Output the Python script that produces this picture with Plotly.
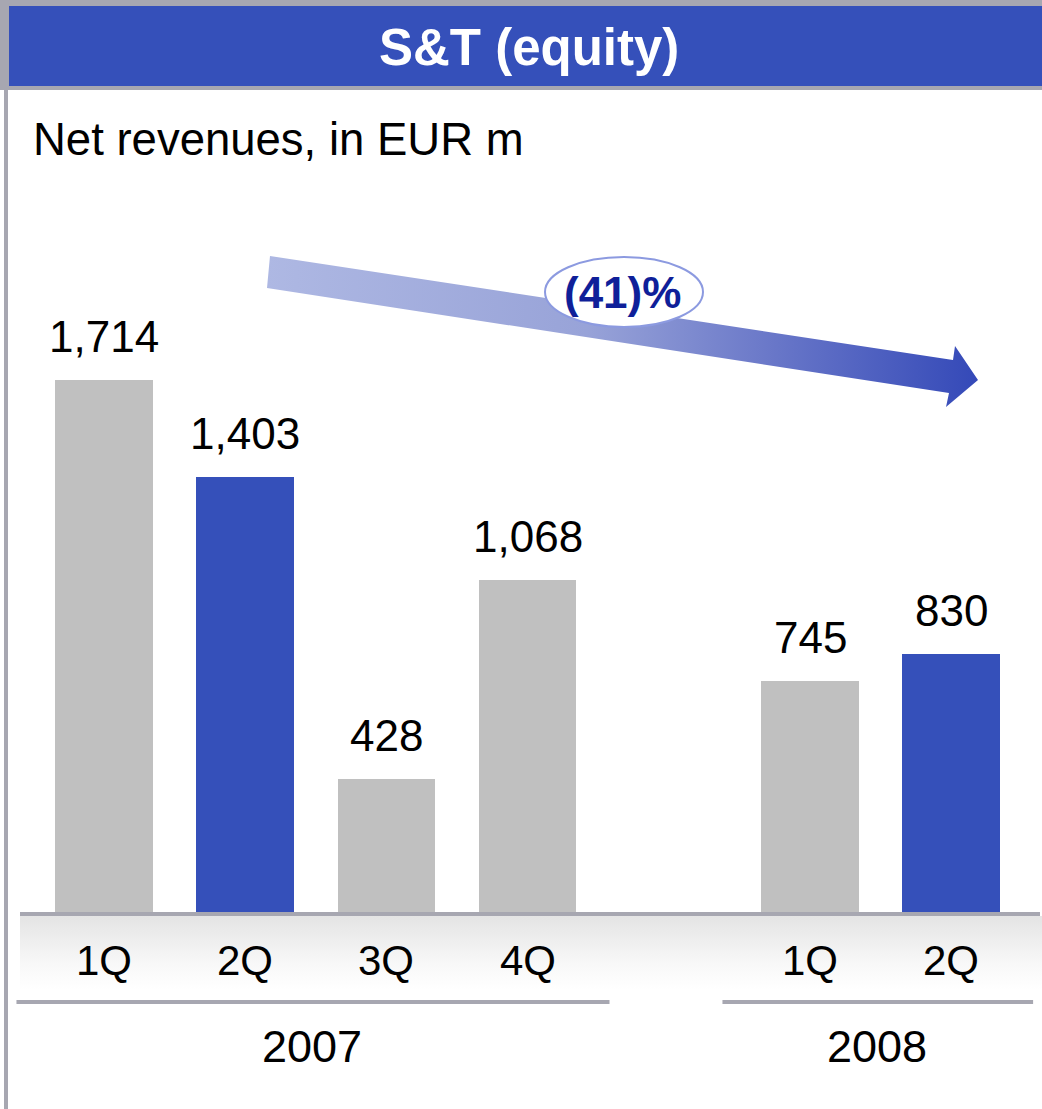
import plotly.graph_objects as go

# ---------------------------
# Data
# ---------------------------
quarters = ["1Q", "2Q", "3Q", "4Q", "1Q", "2Q"]
years = ["2007", "2007", "2007", "2007", "2008", "2008"]
revenues = [1714, 1403, 428, 1068, 745, 830]
title = "S&T (equity)"
subtitle = "Net revenues, in EUR m"
change_label = "(41)%"

# ---------------------------
# Page geometry (pixels)
# ---------------------------
W, H = 1042, 1109
SLOT = 141.2          # px per category slot
X0_PX = 104           # px centre of first bar
BASE_PX = 912         # px of value 0
Y_SCALE = 0.3104      # px per EUR m

BLUE = "#3550BA"
GREY = "#C0C0C0"
FRAME = "#A7A7B1"
FONT = "Liberation Sans, Arial, sans-serif"


def dx(px):
    return (px - X0_PX) / SLOT


def dy(py):
    return (BASE_PX - py) / Y_SCALE


def pfx(px):
    return px / W


def pfy(py):
    return 1 - py / H


# slot positions: leave one empty slot when the year changes
pos = []
p = 0
for i, yr in enumerate(years):
    if i > 0 and yr != years[i - 1]:
        p += 1
    pos.append(p)
    p += 1

colors = [BLUE if q == "2Q" else GREY for q in quarters]

fig = go.Figure()

# grey gradient band under the baseline
band_x = [dx(20), dx(W), dx(W), dx(20)]
band_y = [dy(916), dy(916), dy(990), dy(990)]
fig.add_trace(go.Scatter(
    x=band_x, y=band_y, fill="toself", mode="lines", line=dict(width=0),
    fillgradient=dict(type="vertical",
                      colorscale=[[0, "#FFFFFF"], [0.35, "#F8F8F8"], [1, "#E4E4E4"]]),
    hoverinfo="skip", showlegend=False,
))

fig.add_trace(go.Bar(
    x=pos, y=revenues, width=0.69, marker=dict(color=colors, line=dict(width=0)),
    hoverinfo="skip", showlegend=False,
))

# trend arrow
arrow_px = [(270, 256), (953, 360), (955, 346), (978, 380),
            (946, 407), (949, 393), (267, 288), (270, 256)]
fig.add_trace(go.Scatter(
    x=[dx(a) for a, b in arrow_px], y=[dy(b) for a, b in arrow_px],
    fill="toself", mode="lines", line=dict(width=0),
    fillgradient=dict(type="horizontal",
                      colorscale=[[0, "#AEB8E3"], [0.45, "#98A3D8"],
                                  [0.7, "#6B79C9"], [1, "#3449B8"]]),
    hoverinfo="skip", showlegend=False,
))

shapes = [
    # frame + title bar
    dict(type="rect", xref="paper", yref="paper", x0=0, x1=1, y0=pfy(90), y1=1,
         fillcolor=FRAME, line=dict(width=0), layer="below"),
    dict(type="rect", xref="paper", yref="paper", x0=pfx(9), x1=1, y0=pfy(86), y1=pfy(6),
         fillcolor=BLUE, line=dict(width=0), layer="below"),
    dict(type="line", xref="paper", yref="paper", x0=pfx(6), x1=pfx(6), y0=0, y1=pfy(90),
         line=dict(color=FRAME, width=4)),
    # baseline
    dict(type="line", xref="paper", yref="paper", x0=pfx(20), x1=pfx(1040),
         y0=pfy(914), y1=pfy(914), line=dict(color=FRAME, width=4)),
    # ellipse behind the change label
    dict(type="circle", xref="paper", yref="paper", x0=pfx(545), x1=pfx(703),
         y0=pfy(327), y1=pfy(257), fillcolor="white", line=dict(color="#8C9AE0", width=2),
         layer="above"),
]

annotations = [
    dict(text=f"<b>{title}</b>", xref="paper", yref="paper", x=pfx(529), y=pfy(48),
         xanchor="center", yanchor="middle", showarrow=False,
         font=dict(family=FONT, size=51, color="white")),
    dict(text=subtitle, xref="paper", yref="paper", x=pfx(31), y=pfy(140),
         xanchor="left", yanchor="middle", showarrow=False,
         font=dict(family=FONT, size=45.5, color="black")),
    dict(text=f"<b>{change_label}</b>", xref="paper", yref="paper", x=pfx(622), y=pfy(293),
         xanchor="center", yanchor="middle", showarrow=False,
         font=dict(family=FONT, size=44, color="#0F1F99")),
]

# value labels and quarter labels
for x, v, q in zip(pos, revenues, quarters):
    annotations.append(dict(text=f"{v:,}", x=x, y=v, xref="x", yref="y",
                            yanchor="bottom", yshift=17, showarrow=False,
                            font=dict(family=FONT, size=44, color="black")))
    annotations.append(dict(text=q, x=x, y=pfy(960), xref="x", yref="paper",
                            yanchor="middle", showarrow=False,
                            font=dict(family=FONT, size=42, color="black")))

# year groups: separator line + label
for yr in dict.fromkeys(years):
    ps = [x for x, y in zip(pos, years) if y == yr]
    shapes.append(dict(type="line", xref="x", yref="paper", x0=min(ps) - 0.62,
                       x1=min(max(ps) + 0.58, dx(1040)), y0=pfy(1002), y1=pfy(1002),
                       line=dict(color=FRAME, width=4)))
    annotations.append(dict(text=yr, x=(min(ps) + max(ps)) / 2, y=pfy(1046),
                            xref="x", yref="paper", xshift=-4, yanchor="middle",
                            showarrow=False,
                            font=dict(family=FONT, size=45, color="black")))

fig.update_layout(
    width=W, height=H,
    margin=dict(l=0, r=0, t=0, b=0),
    paper_bgcolor="white", plot_bgcolor="white",
    xaxis=dict(range=[dx(0), dx(W)], visible=False, fixedrange=True),
    yaxis=dict(range=[dy(H), dy(0)], visible=False, fixedrange=True),
    shapes=shapes, annotations=annotations,
    bargap=0, showlegend=False,
)

fig.write_html(
    "out.html",
    config={"displayModeBar": False},
    post_script="document.body.style.margin='0';document.body.style.overflow='hidden';",
)
